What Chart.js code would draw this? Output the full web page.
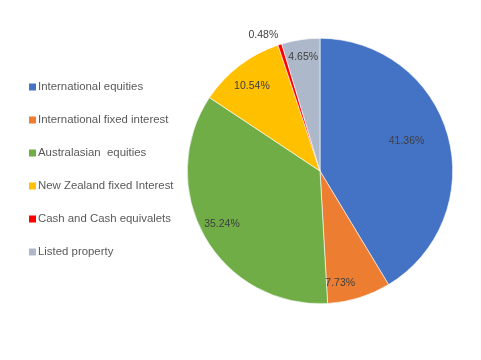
<!DOCTYPE html>
<html>
<head>
<meta charset="utf-8">
<script src="https://cdn.jsdelivr.net/npm/chart.js@4/dist/chart.umd.min.js"></script>
<style>
html,body{margin:0;padding:0;background:#fff;}
#wrap{position:relative;width:481px;height:360px;}
</style>
</head>
<body>
<div id="wrap"><canvas id="c" width="481" height="360"></canvas></div>
<script>
const categories = ["International equities","International fixed interest","Australasian  equities","New Zealand fixed Interest","Cash and Cash equivalets","Listed property"];
const values = [41.36, 7.73, 35.24, 10.54, 0.48, 4.65];
const colors = ["#4472C4","#ED7D31","#70AD47","#FFC000","#FF0000","#ADB9CA"];

const FONT = "'Liberation Sans', Arial, sans-serif";

const legendPlugin = {
  id: 'sideLegend',
  afterDraw(chart, args, opts) {
    const ctx = chart.ctx;
    ctx.save();
    ctx.font = opts.fontSize + 'px ' + FONT;
    ctx.textBaseline = 'middle';
    ctx.textAlign = 'left';
    chart.data.labels.forEach((lab, i) => {
      const y = opts.top + i * opts.gap;
      ctx.fillStyle = chart.data.datasets[0].backgroundColor[i];
      ctx.fillRect(opts.left, y - 3.5, 7, 7);
      ctx.fillStyle = '#595959';
      ctx.fillText(lab, opts.left + 9, y);
    });
    ctx.restore();
  }
};

const labelPlugin = {
  id: 'sliceLabels',
  afterDatasetsDraw(chart, args, opts) {
    const ctx = chart.ctx;
    const meta = chart.getDatasetMeta(0);
    ctx.save();
    ctx.font = opts.fontSize + 'px ' + FONT;
    ctx.fillStyle = '#404040';
    ctx.textAlign = 'center';
    ctx.textBaseline = 'middle';
    meta.data.forEach((arc, i) => {
      const p = arc.getProps(['x','y','startAngle','endAngle','outerRadius'], true);
      const mid = (p.startAngle + p.endAngle) / 2 + (opts.angleShift[i] || 0) * Math.PI / 180;
      const r = p.outerRadius * opts.radiusFactor[i];
      const x = p.x + Math.cos(mid) * r;
      const y = p.y + Math.sin(mid) * r;
      ctx.fillText(chart.data.datasets[0].data[i].toFixed(2) + '%', x, y);
    });
    ctx.restore();
  }
};

new Chart(document.getElementById('c'), {
  type: 'pie',
  data: {
    labels: categories,
    datasets: [{
      data: values,
      backgroundColor: colors,
      borderColor: '#ffffff',
      borderWidth: 0.6
    }]
  },
  options: {
    responsive: false,
    animation: false,
    layout: { padding: { left: 187, right: 28, top: 38, bottom: 56 } },
    plugins: {
      legend: { display: false },
      tooltip: { enabled: false },
      sideLegend: { left: 29, top: 87, gap: 33, fontSize: 11.4 },
      sliceLabels: {
        fontSize: 10.5,
        radiusFactor: [0.69, 0.86, 0.84, 0.82, 1.11, 0.87],
        angleShift: [-3.5, 7, 1.4, -1.3, -5, 0]
      }
    }
  },
  plugins: [legendPlugin, labelPlugin]
});
</script>
</body>
</html>
